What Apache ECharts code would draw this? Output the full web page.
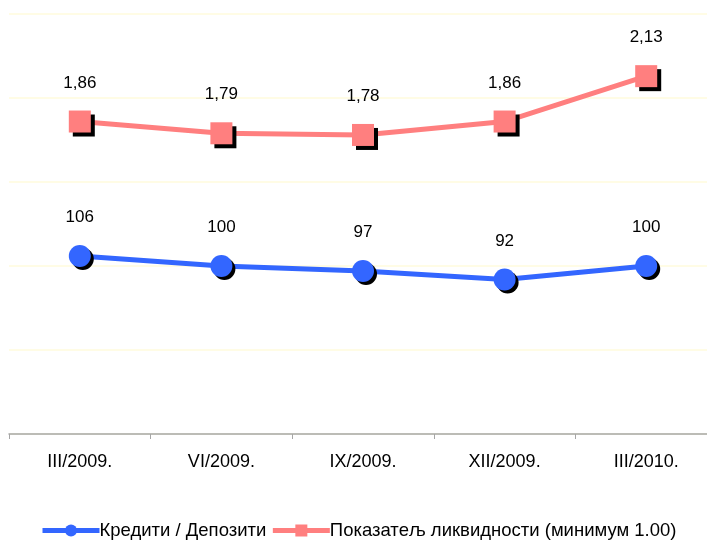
<!DOCTYPE html>
<html>
<head>
<meta charset="utf-8">
<script src="https://cdn.jsdelivr.net/npm/echarts@6/dist/echarts.min.js"></script>
<style>
html,body{margin:0;padding:0;background:#fff;}
#c{width:707px;height:544px;}
</style>
</head>
<body>
<div id="c"></div>
<script>
var categories = ['III/2009.', 'VI/2009.', 'IX/2009.', 'XII/2009.', 'III/2010.'];
var creditsDeposits = [106, 100, 97, 92, 100];
var liquidityRatio = [1.86, 1.79, 1.78, 1.86, 2.13];
var seriesNames = ['Кредити / Депозити', 'Показатељ ликвидности (минимум 1.00)'];

var FONT = '"Liberation Sans", Arial, sans-serif';
var chart = echarts.init(document.getElementById('c'), null, {renderer: 'canvas'});
chart.setOption({
  animation: false,
  backgroundColor: '#ffffff',
  grid: {left: 9, top: 14, right: -10, bottom: 110, containLabel: false, outerBoundsMode: 'none'},
  legend: {
    left: 40, top: 521, padding: 0,
    itemWidth: 57, itemHeight: 15, itemGap: 4,
    textStyle: {fontFamily: FONT, fontSize: 18.5, color: '#000', padding: [0, 0, 0, -5]},
    data: seriesNames,
    lineStyle: {width: 5},
    itemStyle: {shadowBlur: 0, shadowOffsetX: 0, shadowOffsetY: 0, shadowColor: 'transparent'}
  },
  xAxis: {
    type: 'category', data: categories, boundaryGap: true,
    axisLine: {lineStyle: {color: '#a6a6a6', width: 1.5}},
    axisTick: {show: true, length: 5, lineStyle: {color: '#a6a6a6'}},
    axisLabel: {fontFamily: FONT, fontSize: 18, color: '#000', margin: 19}
  },
  yAxis: [
    {type: 'value', min: 0, max: 250, interval: 50, axisLabel: {show: false}, axisLine: {show: false}, axisTick: {show: false},
     splitLine: {lineStyle: {color: '#fffbdc', width: 1.5}}},
    {type: 'value', min: 0, max: 2.5, interval: 0.5, axisLabel: {show: false}, axisLine: {show: false}, axisTick: {show: false},
     splitLine: {show: false}}
  ],
  series: [
    {
      name: seriesNames[0], type: 'line', yAxisIndex: 0, data: creditsDeposits,
      symbol: 'circle', symbolSize: 22,
      lineStyle: {color: '#3366ff', width: 5},
      itemStyle: {color: '#3366ff', shadowColor: '#000', shadowOffsetX: 3, shadowOffsetY: 3, shadowBlur: 0},
      label: {show: true, position: 'top', distance: 19, fontFamily: FONT, fontSize: 17, color: '#000'}
    },
    {
      name: seriesNames[1], type: 'line', yAxisIndex: 1, data: liquidityRatio,
      symbol: 'rect', symbolSize: 22,
      lineStyle: {color: '#ff7f7f', width: 5},
      itemStyle: {color: '#ff7f7f', shadowColor: '#000', shadowOffsetX: 4, shadowOffsetY: 4, shadowBlur: 0},
      label: {show: true, position: 'top', distance: 19, fontFamily: FONT, fontSize: 17, color: '#000',
        formatter: function (p) { return p.value.toFixed(2).replace('.', ','); }}
    }
  ]
});
</script>
</body>
</html>
